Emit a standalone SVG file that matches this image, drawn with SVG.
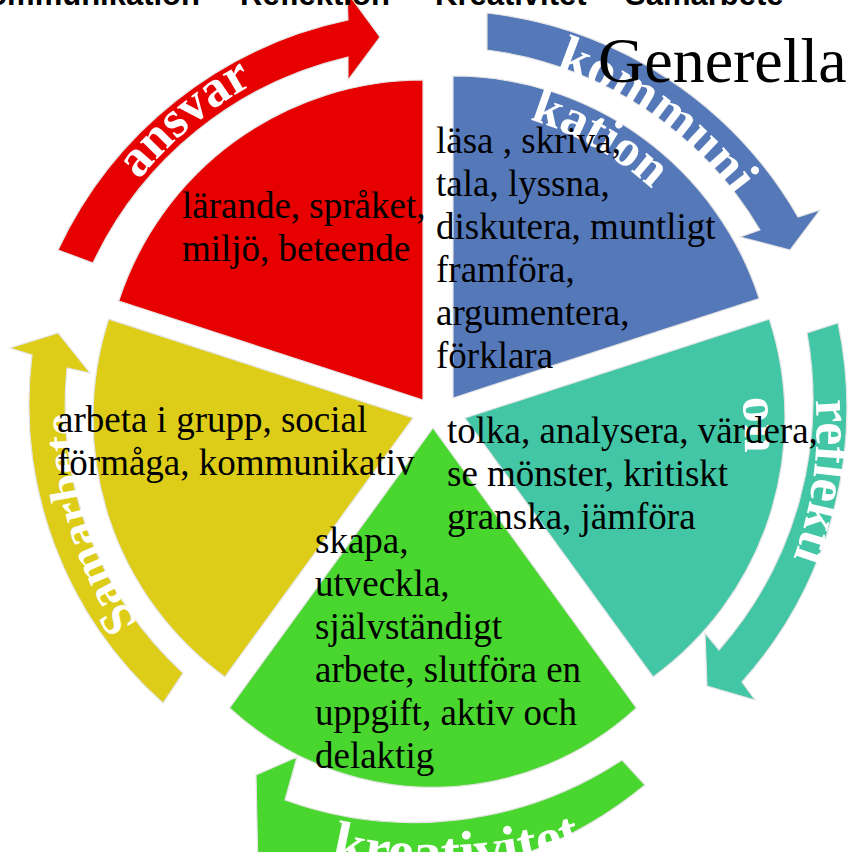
<svg xmlns="http://www.w3.org/2000/svg" width="848" height="852" viewBox="0 0 848 852">
<style>
.w{stroke:#e4e4e4;stroke-width:1.2}
.t{font-family:"Liberation Serif","Times New Roman",serif;font-size:37px;fill:#000}
.lab{font-family:"Liberation Serif","Times New Roman",serif;font-weight:bold;font-size:54px;fill:#fff}
.top{font-family:"Liberation Sans",Arial,sans-serif;font-weight:bold;font-size:31px;fill:#000}
</style>
<defs>
<path id="pRed" d="M56,386.6 A383,383 0 0 1 471.4,38.5"/>
<path id="pBlue1" d="M555.4,69.1 A370,370 0 0 1 802.4,484.2"/>
<path id="pBlue2" d="M529.8,119.7 A314,314 0 0 1 752,450"/>
<path id="pTeal1" d="M815.5,400 A378,378 0 0 1 600,770"/>
<path id="pTeal2" d="M742,398 A305,305 0 0 1 600,700"/>
<path id="pYel" d="M314.2,760.2 A362,362 0 0 1 148.9,202.1"/>
<path id="pGrn" d="M118.4,739.6 A452,452 0 0 0 784.3,710.5"/>
</defs>
<g id="node-ansvar">
<path class="w" fill="#E60000" d="M423,400 L118.7,301.1 A320,320 0 0 1 423,80 Z"/>
</g>
<g id="node-kommunikation">
<path class="w" fill="#5578B9" d="M453,398 L453,76 A322,322 0 0 1 759.2,298.5 Z"/>
</g>
<g id="node-reflektion">
<path class="w" fill="#42C6A6" d="M465,418 L769.3,319.1 A320,320 0 0 1 653.1,676.9 Z"/>
</g>
<g id="node-kreativitet">
<path class="w" fill="#49D62E" d="M433,428 L636.4,707.9 A300,300 0 0 1 229.6,707.9 Z"/>
</g>
<g id="node-samarbete">
<path class="w" fill="#DDCD19" d="M413,418 L224.9,676.9 A320,320 0 0 1 108.7,319.1 Z"/>
</g>
<g id="connectors">
<g id="arrow-ansvar">
<path class="w" fill="#E60000" d="M58,250 A414,414 0 0 1 348,20 L347,-8 L380,37 L348,80 L348,57 A376,376 0 0 0 93,263 Z"/>
<text class="lab" style="font-size:52px"><textPath href="#pRed" startOffset="50%" text-anchor="middle">ansvar</textPath></text>
</g>
<g id="arrow-kommunikation">
<path class="w" fill="#5578B9" d="M487,13 A412,412 0 0 1 798,217 L820,210 L790,250 L740,237 L760,230 A374,374 0 0 0 487,50 Z"/>
<text class="lab"><textPath href="#pBlue1">kommuni</textPath></text>
<text class="lab" style="font-size:52px"><textPath href="#pBlue2">kation</textPath></text>
</g>
<g id="arrow-reflektion">
<path class="w" fill="#42C6A6" d="M838,323 A411,411 0 0 1 742,682 L755,700 L707,686 L705,633 L719,650 A379,379 0 0 0 807,333 Z"/>
<text class="lab" style="font-size:52px"><textPath href="#pTeal1">reflekti</textPath></text>
<text class="lab" style="font-size:52px"><textPath href="#pTeal2">on</textPath></text>
</g>
<g id="arrow-kreativitet">
<path class="w" fill="#49D62E" d="M645,785 A405,405 0 0 1 262,858 L258,870 L256,775 L297,757 L285,800 A378,378 0 0 0 622,760 Z"/>
<text class="lab" style="font-size:58px"><textPath href="#pGrn" startOffset="50%" text-anchor="middle">kreativitet</textPath></text>
</g>
<g id="arrow-samarbete">
<path class="w" fill="#DDCD19" d="M163,703 A400,400 0 0 1 32,355 L10,348 L58,333 L90,373 L67,368 A365,365 0 0 0 183,673 Z"/>
<text class="lab" style="font-size:48px"><textPath href="#pYel" startOffset="50%" text-anchor="middle">Samarbete</textPath></text>
</g>
</g>
<g id="texts">
<text id="text-ansvar" class="t"><tspan x="182" y="218">lärande, språket,</tspan><tspan x="182" y="261">miljö, beteende</tspan></text>
<text id="text-kommunikation" class="t"><tspan x="436" y="153">läsa , skriva,</tspan><tspan x="436" y="196">tala, lyssna,</tspan><tspan x="436" y="239">diskutera, muntligt</tspan><tspan x="436" y="282">framföra,</tspan><tspan x="436" y="325">argumentera,</tspan><tspan x="436" y="368">förklara</tspan></text>
<text id="text-reflektion" class="t"><tspan x="447" y="443">tolka, analysera, värdera,</tspan><tspan x="447" y="486">se mönster, kritiskt</tspan><tspan x="447" y="529">granska, jämföra</tspan></text>
<text id="text-kreativitet" class="t"><tspan x="315" y="553">skapa,</tspan><tspan x="315" y="596">utveckla,</tspan><tspan x="315" y="639">självständigt</tspan><tspan x="315" y="682">arbete, slutföra en</tspan><tspan x="315" y="725">uppgift, aktiv och</tspan><tspan x="315" y="768">delaktig</tspan></text>
<text id="text-samarbete" class="t"><tspan x="57" y="432">arbeta i grupp, social</tspan><tspan x="57" y="475">förmåga, kommunikativ</tspan></text>
</g>
<g id="title">
<text x="598" y="82" style="font-family:'Liberation Serif','Times New Roman',serif;font-size:64px;fill:#000">Generella</text>
</g>
<g id="topline">
<text class="top" x="200" y="5" text-anchor="end">Kommunikation</text>
<text class="top" x="240" y="5">Reflektion</text>
<text class="top" x="435" y="5">Kreativitet</text>
<text class="top" x="625" y="5">Samarbete</text>
</g>
</svg>
